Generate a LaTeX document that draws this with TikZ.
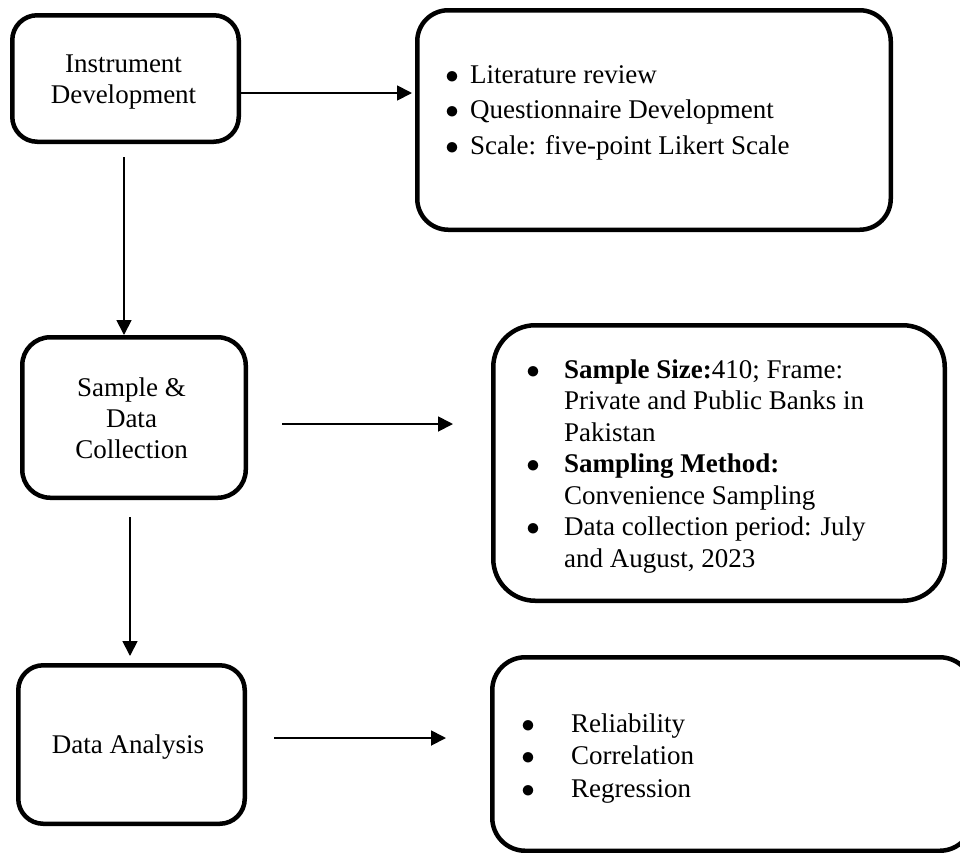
\RequirePackage{fix-cm}
\documentclass[tikz,border=0pt]{standalone}
\usepackage{fontspec}
\setmainfont{Liberation Serif}
\usetikzlibrary{arrows.meta}
\newcommand{\bul}{$\bullet$}
\begin{document}
\begin{tikzpicture}[x=1pt,y=-1pt,
  box/.style={draw, line width=4.5pt, inner sep=0pt, rounded corners=#1},
  box/.default=25pt,
  txt/.style={inner sep=0pt, anchor=base, font=\fontsize{27}{31}\selectfont},
  lst/.style={inner sep=0pt, anchor=base west, font=\fontsize{27}{#1}\selectfont},
  conn/.style={line width=1.8pt, -{Triangle[length=15pt,width=15pt]}}]
\useasboundingbox (0,0) rectangle (960,852);
% boxes
\node[box=25pt, minimum width=226.5pt, minimum height=126.5pt] (instr) at (125.5,78.5) {};
\node[box=31pt, minimum width=473.5pt, minimum height=219.5pt] (instrL) at (654,120) {};
\node[box=28pt, minimum width=223.5pt, minimum height=160.5pt] (sample) at (134,417.5) {};
\node[box=42pt, minimum width=451.5pt, minimum height=275.5pt] (sampleL) at (719,463) {};
\node[box=25pt, minimum width=226.5pt, minimum height=158.5pt] (anal) at (131.5,744.5) {};
\node[box=33pt, minimum width=480.5pt, minimum height=193.5pt] (analL) at (732.5,754) {};
% texts
\node[txt] (instrT) at (123.5,72) {\begin{tabular}[t]{@{}c@{}}Instrument\\Development\end{tabular}};
\node[txt, font=\fontsize{27}{30.8}\selectfont] (sampleT) at (131.5,396.7) {\begin{tabular}[t]{@{}c@{}}Sample \&\\Data\\Collection\end{tabular}};
\node[txt] (analT) at (128,753) {Data Analysis};
\node[lst=35.5] (instrLT) at (445.25,83) {\begin{tabular}[t]{@{}l@{\hspace{11.25pt}}l@{}}
\bul & Literature review\\
\bul & Questionnaire Development\\
\bul & Scale: five-point Likert Scale
\end{tabular}};
\node[lst=31.5] (sampleLT) at (526.25,378) {\begin{tabular}[t]{@{}l@{\hspace{24.25pt}}l@{}}
\bul & \textbf{Sample Size:}410; Frame:\\
 & Private and Public Banks in\\
 & Pakistan\\
\bul & \textbf{Sampling Method:}\\
 & Convenience Sampling\\
\bul & Data collection period: July\\
 & and August, 2023
\end{tabular}};
\node[lst=32.5] (analLT) at (521.25,732) {\begin{tabular}[t]{@{}l@{\hspace{36.25pt}}l@{}}
\bul & Reliability\\
\bul & Correlation\\
\bul & Regression
\end{tabular}};
% connectors
\coordinate (a1e) at (412,93);
\draw[conn] (instr.east |- a1e) -- (a1e);
\coordinate (v1s) at (124,157);
\draw[conn] (v1s) -- (v1s |- sample.north);
\coordinate (a2s) at (282,424);
\coordinate (a2e) at (453,424);
\draw[conn] (a2s) -- (a2e);
\coordinate (v2s) at (130,517);
\coordinate (v2e) at (130,656);
\draw[conn] (v2s) -- (v2e);
\coordinate (a3s) at (274,738);
\coordinate (a3e) at (446,738);
\draw[conn] (a3s) -- (a3e);
\end{tikzpicture}
\end{document}
